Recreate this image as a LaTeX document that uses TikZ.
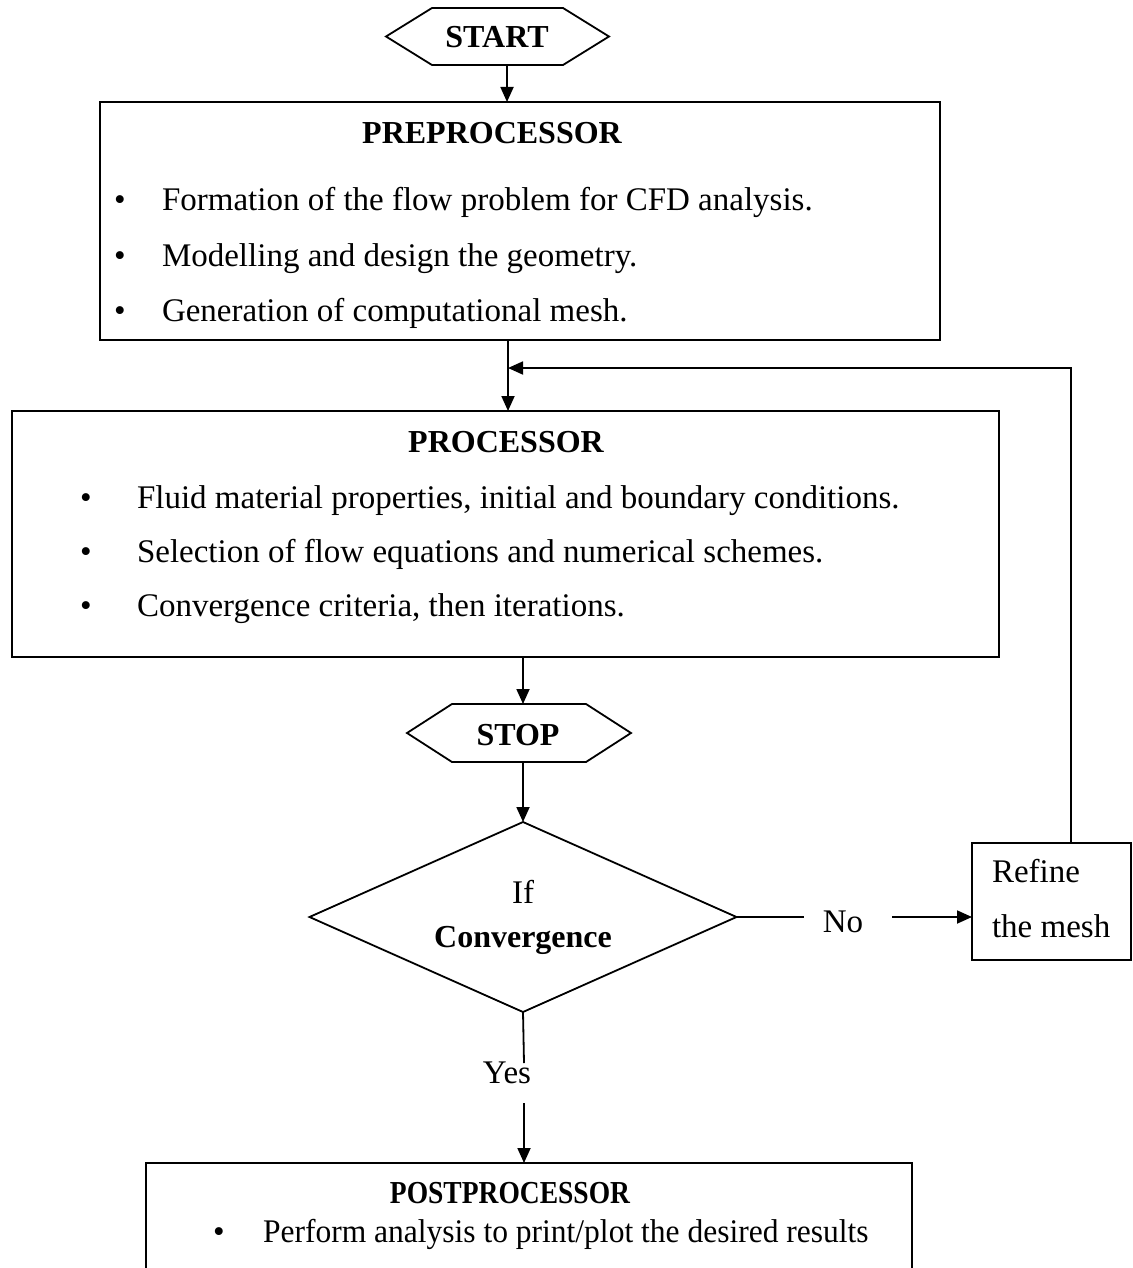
\documentclass[tikz,border=0pt]{standalone}
\usepackage{fontspec}
\setmainfont{Liberation Serif}
\newfontfamily\narrowserif[FakeStretch=0.955]{Liberation Serif}
\newfontfamily\narrowhead[FakeStretch=0.86]{Liberation Serif}
\usetikzlibrary{arrows.meta,shapes.geometric}

\begin{document}
\begin{tikzpicture}[x=1pt,y=-1pt,
  every node/.style={inner sep=0pt, outer sep=0pt},
  wire/.style={line width=1.8pt},
  arr/.style={wire, -{Triangle[length=15pt,width=13pt]}},
  box/.style={draw, line width=1.8pt, rectangle},
  body/.style={font=\fontsize{33}{40}\selectfont, anchor=base},
  bodyw/.style={font=\fontsize{33}{40}\selectfont, anchor=base west},
  head/.style={font=\bfseries\fontsize{32}{40}\selectfont, anchor=base},
  narrowbody/.style={font=\narrowserif\fontsize{33}{40}\selectfont, anchor=base west},
  narrowtitle/.style={font=\narrowhead\bfseries\fontsize{32}{40}\selectfont, anchor=base}
]
\useasboundingbox (0,0) rectangle (1132,1268);
\clip (0,0) rectangle (1132,1268);

% ---- start terminal ----
\node[minimum width=223pt, minimum height=57pt] (start) at (497.5,36.5) {};
\draw[wire] (start.west) -- ([xshift=46pt]start.north west) -- ([xshift=-46pt]start.north east)
  -- (start.east) -- ([xshift=-46pt]start.south east) -- ([xshift=46pt]start.south west) -- cycle;
\node[head] (startT) at (497,48) {START};

% ---- preprocessor ----
\node[box, minimum width=840pt, minimum height=238pt] (pre) at (520,221) {};
\node[head] (preT) at (492,144) {PREPROCESSOR};
\node[body] (preB1) at (120,211) {•};
\node[bodyw] (preL1) at (162,211) {Formation of the flow problem for CFD analysis.};
\node[body] (preB2) at (120,266) {•};
\node[bodyw] (preL2) at (162,266) {Modelling and design the geometry.};
\node[body] (preB3) at (120,321) {•};
\node[bodyw] (preL3) at (162,321) {Generation of computational mesh.};

% ---- processor ----
\node[box, minimum width=987pt, minimum height=246pt] (proc) at (505.5,534) {};
\node[head] (procT) at (506,452) {PROCESSOR};
\node[body] (procB1) at (86,508) {•};
\node[bodyw] (procL1) at (137,508) {Fluid material properties, initial and boundary conditions.};
\node[body] (procB2) at (86,562) {•};
\node[bodyw] (procL2) at (137,562) {Selection of flow equations and numerical schemes.};
\node[body] (procB3) at (86,616) {•};
\node[bodyw] (procL3) at (137,616) {Convergence criteria, then iterations.};

% ---- stop terminal ----
\node[minimum width=224pt, minimum height=58pt] (stop) at (519,733) {};
\draw[wire] (stop.west) -- ([xshift=45pt]stop.north west) -- ([xshift=-45pt]stop.north east)
  -- (stop.east) -- ([xshift=-45pt]stop.south east) -- ([xshift=45pt]stop.south west) -- cycle;
\node[head] (stopT) at (518,745) {STOP};

% ---- decision ----
\node[diamond, draw, line width=1.8pt, minimum width=427pt, minimum height=190pt] (dia) at (523,917) {};
\node[body] (ifT) at (523,903) {If};
\node[head] (convT) at (523,947) {Convergence};

% ---- refine ----
\node[box, minimum width=159pt, minimum height=117pt] (refine) at (1051.5,901.5) {};
\node[bodyw] (refL1) at (992,882) {Refine};
\node[bodyw] (refL2) at (992,937) {the mesh};

% ---- postprocessor ----
\node[box, minimum width=766pt, minimum height=137pt] (post) at (529,1231.5) {};
\node[narrowtitle] (postT) at (510,1203) {POSTPROCESSOR};
\node[body] (postB1) at (219,1242) {•};
\node[narrowbody] (postL1) at (263,1242) {Perform analysis to print/plot the desired results};

% ---- branch labels ----
\node[body] (noT) at (843,932) {No};
\node[body] (yesT) at (507,1083) {Yes};

% ---- connector anchors ----
\coordinate (xa) at (507,0);
\coordinate (xb) at (508,0);
\coordinate (xc) at (523,0);
\coordinate (xf) at (1071,0);
\coordinate (fbin) at (508,368);
\coordinate (noL) at (804,917);
\coordinate (noR) at (892,917);
\coordinate (yesTop) at (524,1063);
\coordinate (yesBot) at (524,1103);

% ---- connectors ----
\draw[arr] (start.south -| xa) -- (pre.north -| xa);
\draw[arr] (pre.south -| xb) -- (proc.north -| xb);
\draw[arr] (refine.north -| xf) |- (fbin);
\draw[arr] (proc.south -| xc) -- (stop.north -| xc);
\draw[arr] (stop.south -| xc) -- (dia.north);
\draw[wire] (dia.east) -- (noL);
\draw[arr] (noR) -- (refine.west |- noR);
\draw[wire] (dia.south) -- (yesTop);
\draw[arr] (yesBot) -- (post.north -| yesBot);
\end{tikzpicture}
\end{document}
